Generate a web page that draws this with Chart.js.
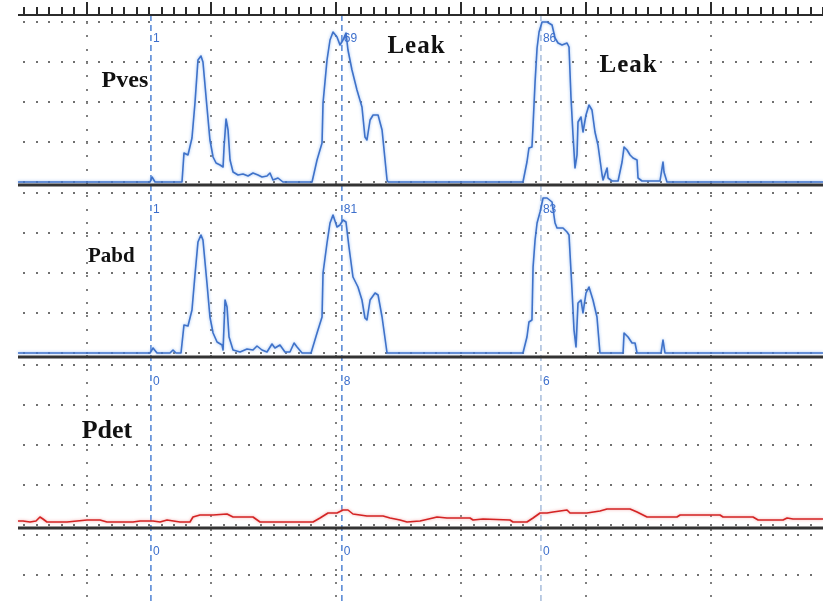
<!DOCTYPE html>
<html>
<head>
<meta charset="utf-8">
<script src="https://cdn.jsdelivr.net/npm/chart.js@4.4.1/dist/chart.umd.min.js"></script>
<style>
  html, body { margin: 0; padding: 0; background: #fff; }
  #wrap { width: 823px; height: 602px; }
</style>
</head>
<body>
<div id="wrap"><canvas id="uro" width="823" height="602"></canvas></div>
<script>
// time (s) and pressures (cmH2O)
const pvesT = [4.5, 15.08, 15.24, 15.48, 17.64, 17.80, 18.12, 18.44, 18.68, 18.92, 19.16, 19.32, 19.64, 19.88, 20.13, 20.37, 20.69, 20.93, 21.01, 21.17, 21.33, 21.49, 21.73, 22.13, 22.53, 22.93, 23.33, 23.73, 24.05, 24.45, 24.69, 24.93, 25.33, 25.73, 28.06, 28.46, 28.86, 28.94, 29.26, 29.50, 29.74, 30.06, 30.30, 30.54, 30.78, 30.94, 31.26, 31.66, 32.06, 32.30, 32.46, 32.71, 32.95, 33.35, 33.67, 34.07, 34.15, 44.96, 45.28, 45.44, 45.68, 45.77, 45.93, 46.09, 46.25, 46.49, 46.89, 47.29, 47.53, 47.77, 48.09, 48.49, 48.65, 48.81, 48.97, 49.13, 49.29, 49.37, 49.61, 49.77, 50.01, 50.25, 50.49, 50.73, 50.97, 51.30, 51.38, 51.70, 51.78, 52.10, 52.58, 52.90, 53.06, 53.30, 53.54, 53.78, 54.10, 54.18, 54.50, 55.94, 56.18, 56.26, 56.50, 69.0];
const pvesV = [0, 0, 2.5, 0, 0, 14.5, 13.5, 22, 39.5, 61, 63, 60, 37.5, 21, 12.5, 9.5, 8.5, 7.5, 17.5, 31.5, 26, 11, 5, 3.5, 4, 3, 4.5, 3.5, 2.5, 3, 4.5, 1, 2, 0, 0, 11, 19.5, 39.5, 61, 71, 75, 72.5, 68.5, 71, 74.5, 66, 56, 46, 37.5, 22.5, 21, 31, 33.5, 33.5, 26, 1, 0, 0, 10, 17, 17.5, 28.5, 50, 67, 75, 80, 80, 78.5, 72, 69.5, 68.5, 69.5, 67.5, 42, 23.5, 7, 13.5, 30, 32.5, 25, 33.5, 38.5, 36, 25, 18.5, 3.5, 1, 7, 2, 0.5, 0.5, 10, 17.5, 16, 13.5, 12, 11, 2, 0.5, 0.5, 10, 5, 0, 0];

const pabdT = [4.5, 15.08, 15.32, 15.64, 16.68, 16.92, 17.16, 17.56, 17.80, 18.12, 18.44, 18.68, 18.92, 19.16, 19.32, 19.64, 19.88, 20.13, 20.45, 20.85, 20.93, 21.09, 21.25, 21.41, 21.73, 22.29, 22.85, 23.33, 23.65, 24.05, 24.45, 24.85, 25.09, 25.49, 25.89, 26.29, 26.62, 26.86, 27.26, 27.98, 28.46, 28.86, 28.94, 29.26, 29.50, 29.74, 30.06, 30.30, 30.54, 30.78, 31.02, 31.34, 31.74, 32.06, 32.30, 32.46, 32.71, 33.11, 33.35, 33.67, 34.07, 44.96, 45.28, 45.44, 45.68, 45.77, 45.93, 46.09, 46.33, 46.57, 46.89, 47.29, 47.53, 47.69, 48.17, 48.49, 48.65, 48.89, 49.05, 49.21, 49.37, 49.61, 49.77, 50.01, 50.25, 50.57, 50.89, 51.13, 52.98, 53.06, 53.38, 53.70, 53.94, 54.10, 56.02, 56.18, 56.34, 69.0];
const pabdV = [0, 0, 2.5, 0, 0, 1.5, 0, 0, 14, 13.5, 21.5, 39, 55.5, 59, 56.5, 35, 18, 10, 5.5, 4, 1.5, 26.5, 23, 8, 1.5, 0.5, 2, 1.5, 3.5, 1.5, 0.5, 4.5, 2.5, 4, 0.5, 0.5, 5, 3, 0, 0, 10, 18, 40, 55, 65, 69, 63, 64, 66.5, 65.5, 53, 38, 33, 26.5, 17.5, 16.5, 26.5, 30, 29, 18, 0, 0, 8, 15.5, 16.5, 43, 56.5, 65, 70.5, 77.5, 77.5, 75.5, 65, 62.5, 62.5, 60.5, 59, 31.5, 11.5, 3, 25, 26.5, 20, 30, 33, 26.5, 18, 0, 0, 10, 8, 5, 5, 0, 0, 6.5, 0, 0];

const pdetT = [4.5, 4.90, 5.46, 5.94, 6.26, 6.50, 6.82, 8.43, 9.23, 10.03, 11.07, 11.63, 13.71, 14.28, 15.32, 15.88, 16.44, 17.48, 18.28, 18.52, 19.08, 20.13, 21.25, 21.73, 23.33, 23.89, 28.14, 28.70, 29.34, 30.06, 30.54, 30.94, 31.34, 32.46, 33.75, 34.31, 35.11, 35.67, 36.71, 37.75, 38.07, 38.87, 40.72, 40.96, 41.76, 43.92, 44.16, 45.28, 45.77, 46.33, 46.89, 47.37, 47.93, 48.49, 48.73, 49.53, 50.09, 51.13, 51.70, 53.54, 54.10, 54.90, 57.30, 57.55, 60.75, 60.99, 63.39, 63.80, 65.80, 66.12, 66.60, 68.20, 69.0];
const pdetV = [2, 2, 1.5, 2, 4, 3, 1.5, 1.5, 2, 2.5, 2.5, 1.5, 1.5, 2, 2, 1.5, 2.5, 1.5, 1.5, 4, 5, 5, 5.5, 4, 4, 1.5, 1.5, 3.5, 6, 6, 7.5, 7.5, 5.5, 4.5, 4.5, 3.5, 2.5, 1.5, 2, 3.5, 4, 3.5, 3.5, 2.5, 3, 2.5, 1.5, 1.5, 3.5, 6, 6, 6.5, 7, 7.5, 6, 6, 6, 7, 8, 8, 6.5, 4, 4, 5, 5, 4, 4, 2.5, 2.5, 3.5, 3, 3, 3];

// cursor lines and the values printed next to them
const markerT = [15.15, 30.45, 46.4];
const pvesMarks = ["1", "69", "86"];
const pabdMarks = ["1", "81", "83"];
const pdetMarks = ["0", "8", "6"];
const ch4Marks = ["0", "0", "0"];

const majorT = [10, 20, 30, 40, 50, 60];
const gridV = [0, 20, 40, 60, 80];

const panels = [
  { axis: "pves", grid: gridV, marks: pvesMarks, floor: -1.5 },
  { axis: "pabd", grid: gridV, marks: pabdMarks, floor: -2 },
  { axis: "pdet", grid: gridV, marks: pdetMarks, floor: -1.5 },
  { axis: "ch4", grid: [60, 80], marks: ch4Marks, floor: null }
];

const notes = [
  { text: "Pves", axis: "pves", t: 11.2, v: 47.5, size: 24, sp: "0px" },
  { text: "Pabd", axis: "pabd", t: 10.1, v: 45.5, size: 21, sp: "0px" },
  { text: "Pdet", axis: "pdet", t: 9.6, v: 43.5, size: 26, sp: "0px" },
  { text: "Leak", axis: "pves", t: 34.1, v: 64.5, size: 25, sp: "1px" },
  { text: "Leak", axis: "pves", t: 51.1, v: 55, size: 25, sp: "1px" }
];

const toPts = (ts, vs) => ts.map((t, i) => ({ x: t, y: vs[i] }));

const paper = {
  id: "paper",
  beforeDatasetsDraw(chart) {
    const { ctx } = chart;
    const x = chart.scales.x;
    ctx.save();
    // dotted rows
    ctx.fillStyle = "#707070";
    panels.forEach(p => {
      const sc = chart.scales[p.axis];
      p.grid.forEach(v => {
        const y = Math.round(sc.getPixelForValue(v));
        for (let t = 5; t <= 68; t++) {
          ctx.fillRect(Math.round(x.getPixelForValue(t)) - 1, y - 1, 2, 2);
        }
      });
    });
    // dotted columns
    ctx.fillStyle = "#808080";
    majorT.forEach(t => {
      const px = Math.round(x.getPixelForValue(t));
      for (let y = 22; y < chart.height; y += 13.33) {
        ctx.fillRect(px - 1, Math.round(y), 2, 2);
      }
    });
    // cursor lines
    ctx.lineWidth = 1.5;
    ctx.setLineDash([6, 4]);
    markerT.forEach((t, i) => {
      const px = x.getPixelForValue(t);
      ctx.strokeStyle = i < 2 ? "#4f83d4" : "#a7bcdb";
      ctx.beginPath();
      ctx.moveTo(px, 15);
      ctx.lineTo(px, chart.height);
      ctx.stroke();
    });
    ctx.restore();
  },
  beforeDatasetDraw(chart, args) {
    const ctx = chart.ctx;
    ctx.save();
    ctx.shadowColor = args.index < 2 ? "rgba(120,170,240,0.8)" : "rgba(240,140,140,0.8)";
    ctx.shadowBlur = 3;
  },
  afterDatasetDraw(chart) {
    chart.ctx.restore();
  },
  afterDatasetsDraw(chart) {
    const { ctx } = chart;
    const x = chart.scales.x;
    const left = x.getPixelForValue(4.5);
    const right = chart.width;
    ctx.save();
    // panel separators
    ctx.strokeStyle = "#333";
    ctx.lineWidth = 3;
    panels.forEach(p => {
      if (p.floor === null) return;
      const y = chart.scales[p.axis].getPixelForValue(p.floor);
      ctx.beginPath();
      ctx.moveTo(left, y);
      ctx.lineTo(right, y);
      ctx.stroke();
    });
    // ruler on top
    ctx.strokeStyle = "#2b2b2b";
    ctx.lineWidth = 2;
    ctx.beginPath();
    ctx.moveTo(left, 15);
    ctx.lineTo(right, 15);
    ctx.stroke();
    ctx.lineWidth = 2;
    for (let t = 5; t <= 69; t++) {
      const px = Math.round(x.getPixelForValue(t));
      ctx.beginPath();
      ctx.moveTo(px, 15);
      ctx.lineTo(px, t % 10 === 0 ? 2 : 7);
      ctx.stroke();
    }
    // cursor values
    ctx.fillStyle = "#3d6fcc";
    ctx.font = '12px "Liberation Sans"';
    ctx.textBaseline = "alphabetic";
    panels.forEach(p => {
      const sc = chart.scales[p.axis];
      p.marks.forEach((m, i) => {
        ctx.fillText(m, x.getPixelForValue(markerT[i]) + 2, sc.getPixelForValue(70));
      });
    });
    // channel names and notes
    ctx.fillStyle = "#111";
    notes.forEach(n => {
      ctx.font = 'bold ' + n.size + 'px "Liberation Serif"';
      ctx.letterSpacing = n.sp;
      ctx.fillText(n.text, x.getPixelForValue(n.t), chart.scales[n.axis].getPixelForValue(n.v));
    });
    ctx.restore();
  }
};

new Chart(document.getElementById("uro"), {
  type: "line",
  data: {
    datasets: [
      { label: "Pves", data: toPts(pvesT, pvesV), yAxisID: "pves", borderColor: "#3f72c9", borderWidth: 1.6 },
      { label: "Pabd", data: toPts(pabdT, pabdV), yAxisID: "pabd", borderColor: "#3f72c9", borderWidth: 1.6 },
      { label: "Pdet", data: toPts(pdetT, pdetV), yAxisID: "pdet", borderColor: "#d42424", borderWidth: 1.6 }
    ]
  },
  options: {
    responsive: false,
    animation: false,
    parsing: false,
    layout: { padding: 0 },
    elements: { point: { radius: 0 }, line: { tension: 0, borderJoinStyle: "round" } },
    scales: {
      x: { type: "linear", axis: "x", position: "bottom", min: 3.058, max: 69.0, display: false },
      pves: { type: "linear", axis: "y", position: "left", min: -210, max: 91, display: false },
      pabd: { type: "linear", axis: "y", position: "left", min: -124.5, max: 176.5, display: false },
      pdet: { type: "linear", axis: "y", position: "left", min: -38.5, max: 262.5, display: false },
      ch4: { type: "linear", axis: "y", position: "left", min: 46.5, max: 347.5, display: false }
    },
    plugins: {
      legend: { display: false },
      tooltip: { enabled: false }
    }
  },
  plugins: [paper]
});
</script>
</body>
</html>
